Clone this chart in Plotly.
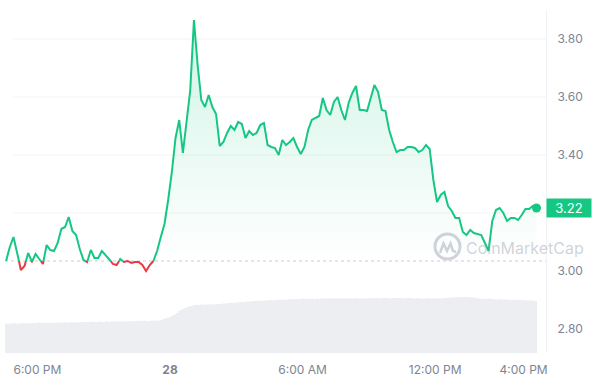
import numpy as np
import pandas as pd
import plotly.graph_objects as go

# ---------------- data ----------------
START = "2024-02-27 16:35"
prices = [
    3.0345, 3.0828, 3.1172, 3.0655, 3.0034, 3.0172, 3.0621, 3.0310, 3.0586, 3.0414,
    3.0241, 3.0897, 3.0724, 3.0690, 3.0966, 3.1448, 3.1517, 3.1862, 3.1379, 3.1241,
    3.0759, 3.0379, 3.0310, 3.0724, 3.0448, 3.0448, 3.0690, 3.0552, 3.0414, 3.0241,
    3.0207, 3.0414, 3.0310, 3.0345, 3.0276, 3.0310, 3.0310, 3.0207, 3.0000, 3.0207,
    3.0345, 3.0690, 3.1172, 3.1621, 3.2448, 3.3414, 3.4586, 3.5207, 3.4069, 3.5172,
    3.6241, 3.8655, 3.7103, 3.5897, 3.5655, 3.6069, 3.5655, 3.5414, 3.4310, 3.4448,
    3.4759, 3.5000, 3.4862, 3.5138, 3.5069, 3.4586, 3.4828, 3.4690, 3.4759, 3.5034,
    3.5103, 3.4345, 3.4276, 3.4241, 3.4000, 3.4517, 3.4345, 3.4448, 3.4586, 3.4276,
    3.4034, 3.4276, 3.4862, 3.5207, 3.5276, 3.5345, 3.5966, 3.5552, 3.5379, 3.5828,
    3.6000, 3.5552, 3.5207, 3.5793, 3.6138, 3.6379, 3.5552, 3.5552, 3.5517, 3.5966,
    3.6414, 3.6172, 3.5552, 3.5517, 3.4862, 3.4448, 3.4103, 3.4172, 3.4172, 3.4276,
    3.4276, 3.4241, 3.4103, 3.4172, 3.4345, 3.4207, 3.3138, 3.2379, 3.2621, 3.2724,
    3.2241, 3.2069, 3.1828, 3.1828, 3.1345, 3.1241, 3.1414, 3.1310, 3.1276, 3.1241,
    3.0966, 3.0690, 3.1724, 3.2103, 3.2172, 3.2000, 3.1724, 3.1828, 3.1828, 3.1759,
    3.1931, 3.2138, 3.2138, 3.2241, 3.2172,
]
volumes = [
    29.5, 29, 29.5, 29.5, 29.5, 30, 29.5, 29.5, 29.5, 30, 29.5, 29.5, 30, 29.5, 30,
    30, 30, 30, 30.5, 30, 30, 30, 30, 30.5, 30, 30, 30.5, 30, 30.5, 30.5,
    30.5, 30.5, 31, 30.5, 30.5, 30.5, 30.5, 31, 30.5, 30.5, 31, 30.5, 31, 31,
    31, 31, 31, 31.5, 31, 31, 31, 31.5, 31, 31, 31.5, 31.5, 31,
    31.5, 31.5, 31.5, 31.5, 32, 31.5, 31.5, 31.5, 32, 31.5, 31.5, 32, 31.5, 32,
    32, 32, 32, 32, 32.5, 32, 32, 32, 32.5, 32, 32.5, 32.5, 32.5,
    33, 34, 34, 35, 35, 36, 37, 38, 39, 40, 42, 43, 44, 45, 46, 46, 47, 47,
    48, 48, 48, 48, 48.5, 48, 48.5, 48.5, 48.5, 49, 48.5, 48.5, 49,
    49, 49, 49, 49.5, 49.5, 49.5, 50, 50, 50, 50, 50.5, 50.5,
    51, 51, 51, 51, 51.5, 51.5, 51.5, 52, 52, 52, 52, 52, 52.5, 52,
    52.5, 52.5, 52.5, 53, 52.5, 53, 53, 53, 53, 53.5, 53, 53.5, 53.5,
    54, 54, 54, 54, 54, 54, 54, 54.5, 54, 54, 54, 54, 54.5, 54, 54, 54.5, 54, 54.5, 54.5, 54.5,
    54.5, 54.5, 55, 54.5, 54.5, 54.5, 54.5, 55, 54.5, 54.5, 54.5, 55, 54.5, 54.5, 54.5, 54.5,
    55, 54.5, 54.5, 55, 54.5, 54.5, 54.5, 55, 54.5,
    55, 55, 55, 55, 54.5, 55, 55, 55, 55, 55, 54.5, 55, 55, 55, 55, 55, 55, 54.5, 55, 55, 55, 55,
    54.5, 54.5, 55, 54.5, 54.5, 54.5, 54.5, 54.5, 55, 54.5, 54.5, 54.5, 54.5, 55, 54.5, 54.5, 55, 55, 55, 55,
    55.5, 55.5, 55.5, 55.5, 56, 55.5, 56, 56, 56, 56.5, 56, 56, 55.5, 55.5, 55,
    54.5, 54.5, 54, 54, 54, 54, 54.5, 54, 54, 54, 53.5, 53.5, 54, 53.5, 53.5, 53.5, 53.5,
    53, 53, 53, 53.5, 53, 53, 53, 53, 52.5, 53, 52.5, 52.5, 52.5, 52.5, 52, 52,
]
y_tick_vals = [2.8, 3.0, 3.2, 3.4, 3.6, 3.8]
y_tick_text = ["2.80", "3.00", "", "3.40", "3.60", "3.80"]
grid_vals = [3.2, 3.4, 3.6, 3.8]
x_tick_times = ["2024-02-27 18:00", "2024-02-28 00:00", "2024-02-28 06:00",
                "2024-02-28 12:00", "2024-02-28 16:00"]
x_tick_labels = ["6:00 PM", "<b>28</b>", "6:00 AM", "12:00 PM", "4:00 PM"]
X_RANGE = ["2024-02-27 16:32:00", "2024-02-28 17:00:50"]

GREEN = "#16c784"
RED = "#ea3943"
FONT = "Inter"

times = pd.date_range(START, periods=len(prices), freq="10min")
vtimes = pd.date_range(START, periods=len(volumes), freq="5min")
base = prices[0]

# ---- split line into green / red parts at the baseline ----
t = times.asi8.astype(float)
p = np.array(prices, dtype=float)
all_pts = [(t[0], p[0])]
for i in range(len(p) - 1):
    t0, t1, p0, p1 = t[i], t[i + 1], p[i], p[i + 1]
    if (p0 - base) * (p1 - base) < 0:
        tc = t0 + (base - p0) / (p1 - p0) * (t1 - t0)
        all_pts.append((tc, base))
    all_pts.append((t1, p1))

gx, gy, rx, ry = [], [], [], []
cur = None
for a, b in zip(all_pts[:-1], all_pts[1:]):
    col = "g" if (a[1] + b[1]) / 2 >= base else "r"
    xs, ys = (gx, gy) if col == "g" else (rx, ry)
    if col != cur:
        if cur is not None:
            px_, py_ = (gx, gy) if cur == "g" else (rx, ry)
            px_.append(None); py_.append(None)
        xs.append(a[0]); ys.append(a[1])
        cur = col
    xs.append(b[0]); ys.append(b[1])

def to_dt(lst):
    return [None if v is None else pd.Timestamp(int(v)) for v in lst]

fx = [pd.Timestamp(int(a)) for a, _ in all_pts]
fy = [max(b, base) for _, b in all_pts]

fig = go.Figure()

# volume bars
fig.add_trace(go.Bar(x=vtimes, y=volumes, yaxis="y2",
                     marker=dict(color="#eceef2", line=dict(width=0)),
                     hoverinfo="skip", showlegend=False))

# fill area
fig.add_trace(go.Scatter(x=fx, y=[base] * len(fx), mode="lines",
                         line=dict(width=0), hoverinfo="skip", showlegend=False))
fig.add_trace(go.Scatter(x=fx, y=fy, mode="lines", line=dict(width=0),
                         fill="tonexty",
                         fillgradient=dict(type="vertical",
                                           colorscale=[[0, "rgba(22,199,132,0.0)"],
                                                       [1, "rgba(22,199,132,0.20)"]]),
                         hoverinfo="skip", showlegend=False))

fig.add_trace(go.Scatter(x=to_dt(rx), y=ry, mode="lines",
                         line=dict(color=RED, width=2), connectgaps=False,
                         showlegend=False))
fig.add_trace(go.Scatter(x=to_dt(gx), y=gy, mode="lines",
                         line=dict(color=GREEN, width=2), connectgaps=False,
                         showlegend=False))
fig.add_trace(go.Scatter(x=[times[-1]], y=[prices[-1]], mode="markers",
                         marker=dict(color=GREEN, size=9), showlegend=False))

shapes = []
for gv in grid_vals:
    shapes.append(dict(type="line", xref="paper", x0=0.015, x1=1, yref="y",
                       y0=gv, y1=gv, line=dict(color="#f3f4f6", width=1), layer="below"))
shapes.append(dict(type="line", xref="paper", x0=0, x1=1, yref="y", y0=base, y1=base,
                   line=dict(color="#c9ced8", width=1, dash="dot"), layer="below"))

# watermark logo (circle + wave)
WM = "rgba(150,158,172,0.45)"
def px2paper(xp, yp):
    return (xp - 5) / 541.0, (353 - yp) / 343.0
cx0, cy0 = px2paper(435, 259)
cx1, cy1 = px2paper(460, 234)
shapes.append(dict(type="circle", xref="paper", yref="paper", x0=cx0, y0=cy0,
                   x1=cx1, y1=cy1, line=dict(color=WM, width=3)))
wave = [(440, 253), (443.5, 243.5), (447, 251), (450.5, 243.5), (453, 251), (456, 252)]
path = ""
for k, (xx, yy) in enumerate(wave):
    a, b = px2paper(xx, yy)
    path += ("M" if k == 0 else "L") + f"{a:.4f},{b:.4f} "
shapes.append(dict(type="path", xref="paper", yref="paper", path=path,
                   line=dict(color=WM, width=2.5)))

wx, wy = px2paper(525, 248)
annotations = [
    dict(xref="paper", yref="paper", x=wx, y=wy, text="CoinMarketCap", showarrow=False,
         font=dict(family=FONT, size=16, color=WM), xanchor="center", yanchor="middle"),
    dict(xref="paper", yref="y", x=1, y=prices[-1], text=f"{prices[-1]:.2f}",
         showarrow=False, xanchor="left", yanchor="middle", bgcolor=GREEN,
         font=dict(family=FONT, size=13, color="white"), width=40, height=14,
         borderpad=2, align="center"),
]

fig.update_layout(
    width=600, height=381,
    margin=dict(l=5, r=54, t=10, b=28),
    paper_bgcolor="white", plot_bgcolor="white",
    bargap=0.5,
    showlegend=False,
    font=dict(family=FONT, color="#808a9d", size=12),
    xaxis=dict(type="date", range=X_RANGE, tickvals=x_tick_times, ticktext=x_tick_labels,
               showgrid=False, zeroline=False, showline=False,
               ticks="outside", ticklen=6, tickcolor="rgba(0,0,0,0)",
               tickfont=dict(family=FONT, size=12, color="#7d8593")),
    yaxis=dict(range=[2.7172, 3.9], side="right", tickvals=y_tick_vals, ticktext=y_tick_text,
               showgrid=False, zeroline=False, showline=True, linecolor="#f1f2f5",
               ticks="outside", ticklen=8, tickcolor="rgba(0,0,0,0)",
               tickfont=dict(family=FONT, size=12, color="#7d8593")),
    yaxis2=dict(range=[0, 343], overlaying="y", visible=False),
    shapes=shapes,
    annotations=annotations,
)

fig.write_html("out.html", config={"displayModeBar": False},
               post_script="document.body.style.margin='0';")
